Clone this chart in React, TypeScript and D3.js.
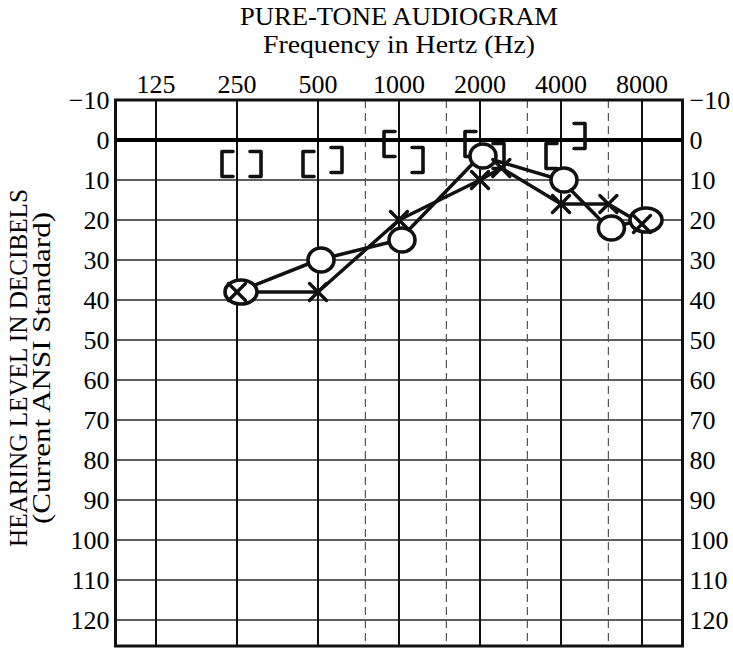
import * as d3 from "d3"

// frequency grid (Hz)
const octaveFreqs = [125, 250, 500, 1000, 2000, 4000, 8000]
const halfOctaveFreqs = [750, 1500, 3000, 6000]
// hearing level ticks (dB)
const dbTicks = [-10, 0, 10, 20, 30, 40, 50, 60, 70, 80, 90, 100, 110, 120]

// right ear, air conduction (O)
const rightEarFreqs = [250, 500, 1000, 2000, 4000, 6000, 8000]
const rightEarDb = [38, 30, 25, 4, 10, 22, 20]
// left ear, air conduction (X)
const leftEarFreqs = [250, 500, 1000, 2000, 2400, 4000, 6000, 8000]
const leftEarDb = [38, 38, 20, 10, 7, 16, 16, 21]
// masked bone conduction: "[" right, "]" left
const boneFreqs = [250, 500, 1000, 2000, 4000]
const rightBoneDb = [6, 6, 1, 1, 4]
const leftBoneDb = [6, 5, 5, 4, -1]

const FONT = "'Liberation Serif', 'Times New Roman', serif"

const App = () => {
  const width = 733
  const height = 660

  const x = d3
    .scaleLog()
    .base(2)
    .domain([125 / Math.SQRT2, 8000 * Math.SQRT2])
    .range([115.5, 682.5])

  const y = d3.scaleLinear().domain([-10, 126.5]).range([100, 646])

  const [x0, x1] = x.range()
  const [y0, y1] = y.range()

  const rightPts = rightEarFreqs.map((f, i) => ({ f, db: rightEarDb[i] }))
  const leftPts = leftEarFreqs.map((f, i) => ({ f, db: leftEarDb[i] }))

  const line = d3
    .line<{ f: number; db: number }>()
    .x((d) => x(d.f))
    .y((d) => y(d.db))

  // an O that also carries an X gets drawn wider
  const hasX = (p: { f: number; db: number }) =>
    leftPts.some((q) => q.f === p.f && Math.abs(q.db - p.db) <= 3)

  const bw = 11 // bracket arm
  const bh = 12.5 // bracket half height
  const fmt = (d: number) => (d < 0 ? "\u2212" + Math.abs(d) : String(d))

  return (
    <svg
      width={width}
      height={height}
      style={{ position: "absolute", left: 0, top: 0, background: "white" }}
      fontFamily={FONT}
    >
      {/* titles */}
      <text x={(x0 + x1) / 2} y={25} textAnchor="middle" fontSize={26} textLength={318} lengthAdjust="spacingAndGlyphs">
        PURE-TONE AUDIOGRAM
      </text>
      <text x={(x0 + x1) / 2} y={53} textAnchor="middle" fontSize={26} textLength={272} lengthAdjust="spacingAndGlyphs">
        Frequency in Hertz (Hz)
      </text>

      {/* y axis title */}
      <g transform={`translate(27, 368) rotate(-90)`}>
        <text x={0} y={0} textAnchor="middle" fontSize={25} textLength={358} lengthAdjust="spacingAndGlyphs">
          HEARING LEVEL IN DECIBELS
        </text>
        <text x={0} y={23} textAnchor="middle" fontSize={25} textLength={312} lengthAdjust="spacingAndGlyphs">
          (Current ANSI Standard)
        </text>
      </g>

      {/* horizontal grid */}
      {dbTicks.map((d) => (
        <line key={"h" + d} x1={x0} x2={x1} y1={y(d)} y2={y(d)} stroke="#2a2a2a" strokeWidth={1.6} />
      ))}
      {/* half octave dashed */}
      {halfOctaveFreqs.map((f) => (
        <line
          key={"d" + f}
          x1={x(f)}
          x2={x(f)}
          y1={y0}
          y2={y1}
          stroke="#555"
          strokeWidth={1.2}
          strokeDasharray="8,5"
        />
      ))}
      {/* octave lines */}
      {octaveFreqs.map((f) => (
        <line key={"v" + f} x1={x(f)} x2={x(f)} y1={y0} y2={y1} stroke="#111" strokeWidth={2} />
      ))}
      {/* 0 dB reference */}
      <line x1={x0} x2={x1} y1={y(0)} y2={y(0)} stroke="#000" strokeWidth={4} />
      {/* frame */}
      <rect x={x0} y={y0} width={x1 - x0} height={y1 - y0} fill="none" stroke="#111" strokeWidth={3} />

      {/* tick labels */}
      {octaveFreqs.map((f) => (
        <text key={"xl" + f} x={x(f)} y={93} textAnchor="middle" fontSize={26}>
          {f}
        </text>
      ))}
      {dbTicks.map((d) => (
        <g key={"yl" + d}>
          <text x={x0 - 6} y={y(d) + 8.5} textAnchor="end" fontSize={26}>
            {fmt(d)}
          </text>
          <text x={x1 + 7} y={y(d) + 8.5} textAnchor="start" fontSize={26}>
            {fmt(d)}
          </text>
        </g>
      ))}

      {/* connecting lines */}
      <g fill="none" stroke="#111" strokeWidth={3.5} strokeLinejoin="round" strokeLinecap="round">
        <path d={line(leftPts) || ""} />
        <path d={line(rightPts) || ""} />
      </g>

      {/* masked bone conduction brackets */}
      <g fill="none" stroke="#111" strokeWidth={3.6} strokeLinejoin="round" strokeLinecap="round">
        {boneFreqs.map((f, i) => {
          const cx = x(f) - 15
          const cy = y(rightBoneDb[i])
          return (
            <path
              key={"rb" + f}
              d={`M${cx + bw},${cy - bh} L${cx},${cy - bh} L${cx},${cy + bh} L${cx + bw},${cy + bh}`}
            />
          )
        })}
        {boneFreqs.map((f, i) => {
          const cx = x(f) + 24
          const cy = y(leftBoneDb[i])
          return (
            <path
              key={"lb" + f}
              d={`M${cx - bw},${cy - bh} L${cx},${cy - bh} L${cx},${cy + bh} L${cx - bw},${cy + bh}`}
            />
          )
        })}
      </g>

      {/* right ear O */}
      {rightPts.map((p) => (
        <ellipse
          key={"o" + p.f}
          cx={x(p.f) + (hasX(p) ? 4 : 3)}
          cy={y(p.db)}
          rx={hasX(p) ? 16 : 13}
          ry={12}
          fill="white"
          stroke="#111"
          strokeWidth={3.6}
        />
      ))}

      {/* left ear X */}
      <g stroke="#111" strokeWidth={3.4} strokeLinecap="round">
        {leftPts.map((p) => {
          const cx = x(p.f)
          const cy = y(p.db)
          const s = 8.5
          return (
            <g key={"x" + p.f}>
              <line x1={cx - s} y1={cy - s} x2={cx + s} y2={cy + s} />
              <line x1={cx - s} y1={cy + s} x2={cx + s} y2={cy - s} />
            </g>
          )
        })}
      </g>
    </svg>
  )
}

export default App
